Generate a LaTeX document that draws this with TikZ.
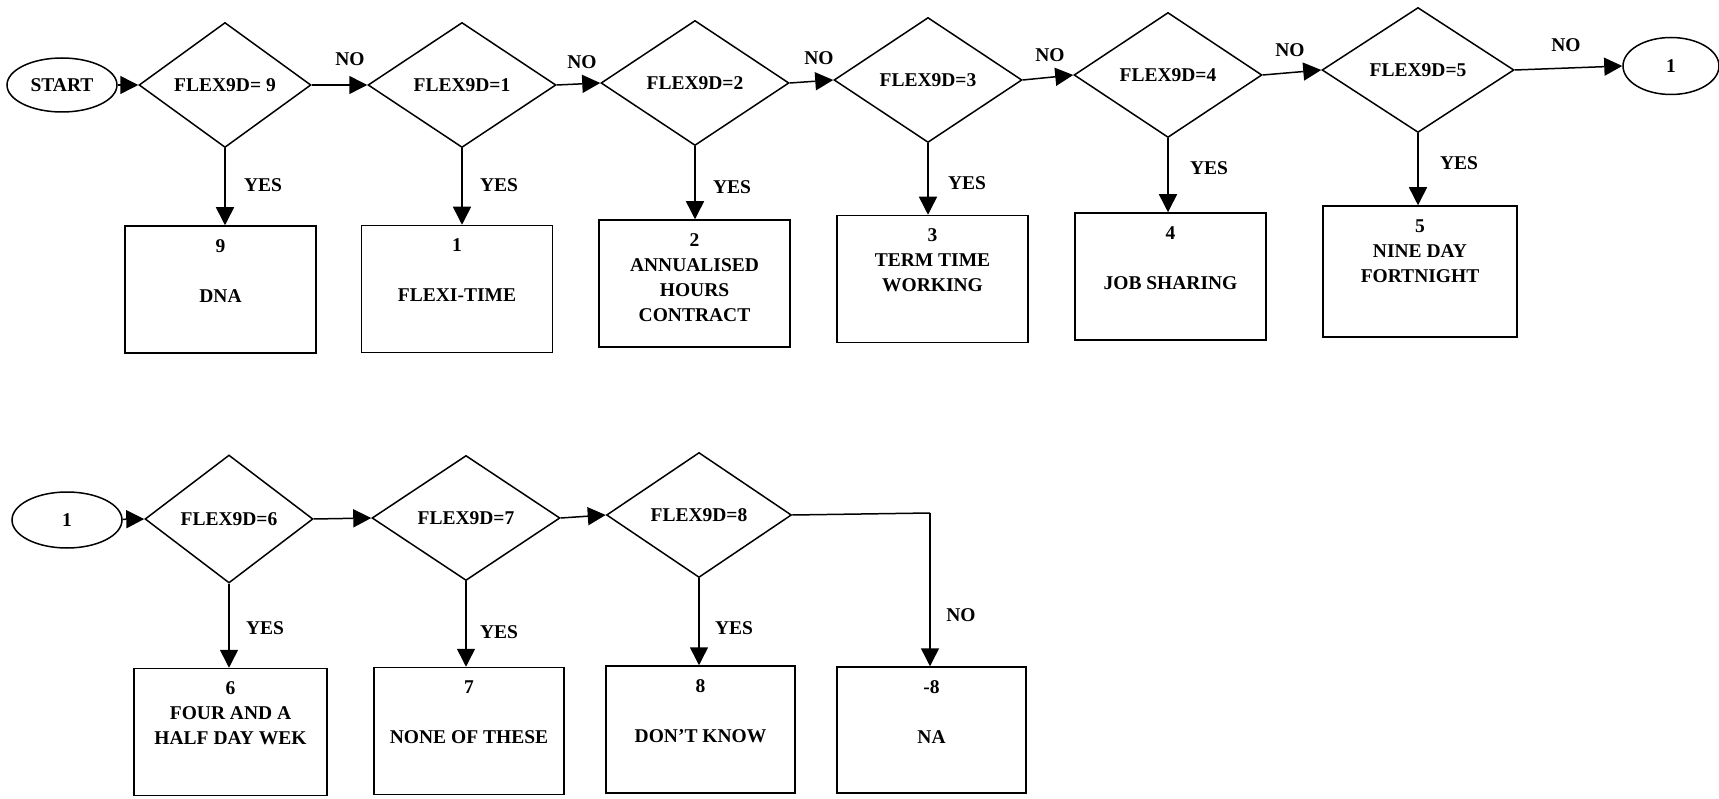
\documentclass[tikz,border=0pt]{standalone}
\usepackage{fontspec}
\setmainfont{Liberation Serif}
\usetikzlibrary{shapes.geometric,arrows.meta}
\begin{document}
\begin{tikzpicture}[x=1pt,y=-1pt,
  every node/.style={font=\fontsize{19.5}{25}\selectfont\bfseries},
  stroke/.style={line width=1.5pt},
  flow/.style={stroke,-{Triangle[length=18pt,width=18pt]}},
  test/.style={diamond,draw,stroke,inner sep=0pt,minimum width=#1,minimum height=125pt},
  test/.default=188pt,
  term/.style={ellipse,draw,stroke,inner sep=0pt},
  outcome/.style={rectangle,draw,stroke,inner sep=0pt,minimum width=191pt,minimum height=127pt},
  outtext/.style={anchor=north,align=center,inner sep=0pt},
  tag/.style={inner sep=0pt}
]
\useasboundingbox (0,0) rectangle (1719,799);

% ---- first row of tests ----
\node[term,minimum width=110pt,minimum height=54pt] (start) at (62,85) {START};
\node[test=172pt] (d1) at (225,85) {FLEX9D= 9};
\node[test] (d2) at (462,85) {FLEX9D=1};
\node[test] (d3) at (695,83) {FLEX9D=2};
\node[test] (d4) at (928,80) {FLEX9D=3};
\node[test] (d5) at (1168,75) {FLEX9D=4};
\node[test=192pt] (d6) at (1418,70) {FLEX9D=5};
\node[term,minimum width=96pt,minimum height=57pt] (c1) at (1671,66) {1};

% ---- first row of outcomes ----
\node[outcome] (b9) at (220.5,289.5) {};
\node[outcome] (b1) at (457,289) {};
\node[outcome] (b2) at (694.5,283.5) {};
\node[outcome] (b3) at (932.5,279) {};
\node[outcome] (b4) at (1170.5,276.5) {};
\node[outcome,minimum width=194pt,minimum height=131pt] (b5) at (1420,271.5) {};

\node[outtext] (t9) at ([yshift=-14pt]b9.north) {9\\[25pt]DNA};
\node[outtext] (t1) at ([yshift=-14pt]b1.north) {1\\[25pt]FLEXI-TIME};
\node[outtext] (t2) at ([yshift=-14pt]b2.north) {2\\ANNUALISED\\HOURS\\CONTRACT};
\node[outtext] (t3) at ([yshift=-14pt]b3.north) {3\\TERM TIME\\WORKING};
\node[outtext] (t4) at ([yshift=-14pt]b4.north) {4\\[25pt]JOB SHARING};
\node[outtext] (t5) at ([yshift=-14pt]b5.north) {5\\NINE DAY\\FORTNIGHT};

% ---- second row of tests ----
\node[term,minimum width=110pt,minimum height=56pt] (c1b) at (67,520) {1};
\node[test=168pt,minimum height=128pt] (d7) at (229,519) {FLEX9D=6};
\node[test] (d8) at (466,518) {FLEX9D=7};
\node[test=185pt] (d9) at (699,515) {FLEX9D=8};

% ---- second row of outcomes ----
\node[outcome,minimum width=193pt] (b6) at (230.5,732) {};
\node[outcome,minimum width=190pt] (b7) at (469,731) {};
\node[outcome,minimum width=189pt] (b8) at (700.5,729.5) {};
\node[outcome,minimum width=189pt,minimum height=126pt] (bna) at (931.5,730) {};

\node[outtext] (t6) at ([yshift=-14pt]b6.north) {6\\FOUR AND A\\HALF DAY WEK};
\node[outtext] (t7) at ([yshift=-14pt]b7.north) {7\\[25pt]NONE OF THESE};
\node[outtext] (t8) at ([yshift=-14pt]b8.north) {8\\[25pt]DON'T KNOW};
\node[outtext] (tna) at ([yshift=-14pt]bna.north) {-8\\[25pt]NA};

% ---- connectors: first row ----
\draw[flow] (start) -- (d1.west);
\draw[flow] (d1.east) -- (d2.west);
\draw[flow] (d2.east) -- (d3.west);
\draw[flow] (d3.east) -- (d4.west);
\draw[flow] (d4.east) -- (d5.west);
\draw[flow] (d5.east) -- (d6.west);
\draw[flow] (d6.east) -- (c1.west);

\draw[flow] (d1.south) -- (d1.south |- b9.north);
\draw[flow] (d2.south) -- (d2.south |- b1.north);
\draw[flow] (d3.south) -- (d3.south |- b2.north);
\draw[flow] (d4.south) -- (d4.south |- b3.north);
\draw[flow] (d5.south) -- (d5.south |- b4.north);
\draw[flow] (d6.south) -- (d6.south |- b5.north);

% ---- connectors: second row ----
\draw[flow] (c1b) -- (d7.west);
\draw[flow] (d7.east) -- (d8.west);
\draw[flow] (d8.east) -- (d9.west);
\coordinate (turn) at (930,513);
\draw[stroke] (d9.east) -- (turn);
\draw[flow] (turn) -- (turn |- bna.north);

\draw[flow] (d7.south) -- (d7.south |- b6.north);
\draw[flow] (d8.south) -- (d8.south |- b7.north);
\draw[flow] (d9.south) -- (d9.south |- b8.north);

% ---- branch labels ----
\node[tag] (n1) at (350,59) {NO};
\node[tag] (n2) at (582,62) {NO};
\node[tag] (n3) at (819,58) {NO};
\node[tag] (n4) at (1050,55) {NO};
\node[tag] (n5) at (1290,50) {NO};
\node[tag] (n6) at (1566,45) {NO};
\node[tag] (n7) at (961,615) {NO};

\node[tag] (y1) at (263,185) {YES};
\node[tag] (y2) at (499,185) {YES};
\node[tag] (y3) at (732,187) {YES};
\node[tag] (y4) at (967,183) {YES};
\node[tag] (y5) at (1209,168) {YES};
\node[tag] (y6) at (1459,163) {YES};
\node[tag] (y7) at (265,628) {YES};
\node[tag] (y8) at (499,632) {YES};
\node[tag] (y9) at (734,628) {YES};
\end{tikzpicture}
\end{document}
